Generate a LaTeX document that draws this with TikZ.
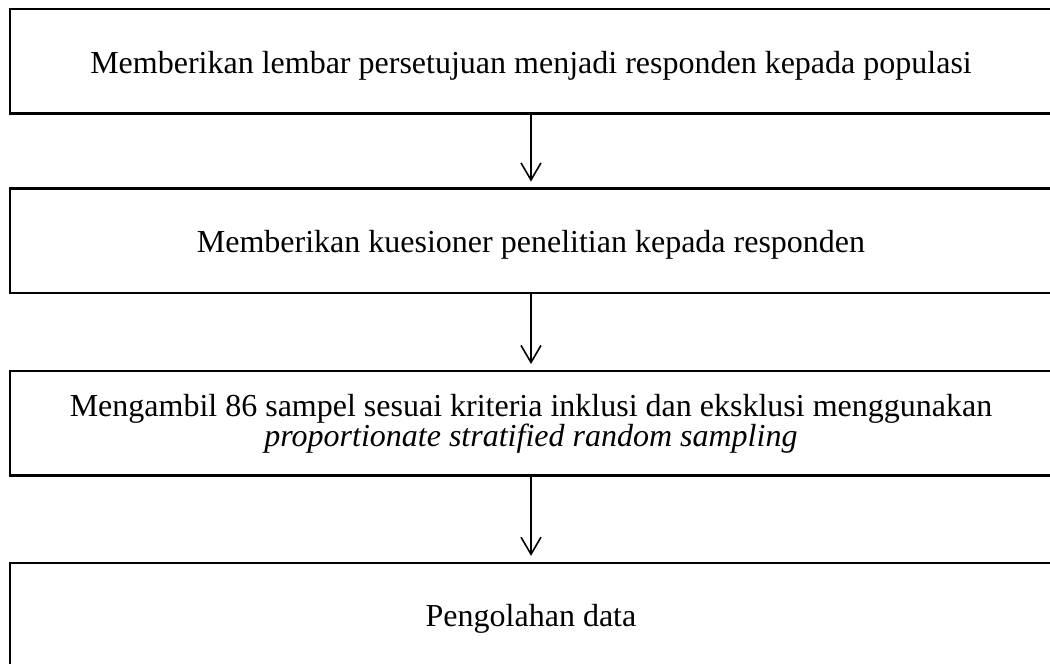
\documentclass[tikz,border=0pt]{standalone}
\usepackage{fontspec}
\setmainfont{Liberation Serif}
\usetikzlibrary{arrows.meta}
\setlength{\lineskiplimit}{-10pt}
\begin{document}
\begin{tikzpicture}[x=0.375pt, y=-0.375pt,
    stepbox/.style={draw, line width=0.8pt, inner sep=0pt, align=center,
        minimum width=390.75pt, minimum height=39.2pt,
        text height=11.5pt, text depth=2.6pt,
        font=\fontsize{12}{11.25}\selectfont},
    flow/.style={-{Straight Barb[length=6.4pt,width=7.5pt]}, line width=0.6pt, shorten >=2.2pt}]
            \useasboundingbox (0,0) rectangle (1050,664);

            \node[stepbox] (b1) at (531,61.25) {Memberikan lembar persetujuan menjadi responden kepada populasi};
            \node[stepbox] (b2) at (531,240.75) {Memberikan kuesioner penelitian kepada responden};
            \node[stepbox, text height=20.4pt] (b3) at (531,423.25) {Mengambil 86 sampel sesuai kriteria inklusi dan eksklusi menggunakan\\ \textit{proportionate stratified random sampling}};
            \node[stepbox] (b4) at (531,615) {Pengolahan data};

            \draw[flow] (b1) -- (b2);
            \draw[flow] (b2) -- (b3);
            \draw[flow] (b3) -- (b4);
        \end{tikzpicture}
\end{document}
